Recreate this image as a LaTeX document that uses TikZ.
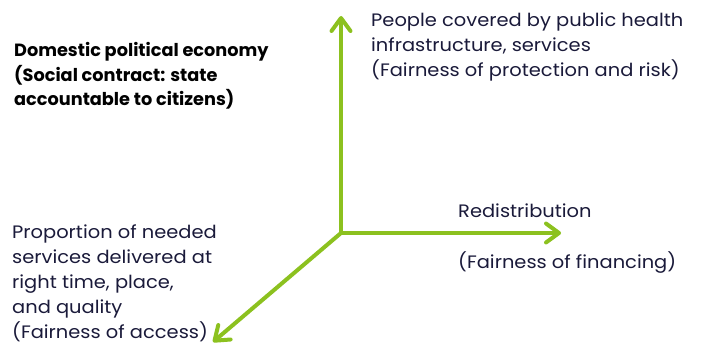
\documentclass[tikz,border=0pt]{standalone}
\usepackage{fontspec}
\setmainfont{Poppins}[FakeStretch=1.08, BoldFeatures={FakeStretch=1.0}]
\usetikzlibrary{arrows.meta}
\definecolor{axisgreen}{HTML}{8CC11F}
\definecolor{txt}{HTML}{1A1A3A}
\tikzset{
  axis/.style={draw=axisgreen, line width=4pt, line cap=round,
    -{Straight Barb[length=13pt, width=19pt, line width=4pt, round]}},
  lbl/.style={anchor=north west, align=left, inner sep=0pt, text=txt,
    font=\fontsize{18}{24.8}\selectfont},
  boldlbl/.style={lbl, text=black, font=\fontsize{17.7}{24.8}\selectfont\bfseries}
}
\begin{document}
\begin{tikzpicture}[x=1pt, y=-1pt]
\useasboundingbox (0,0) rectangle (708,345);
\coordinate (o) at (341,233);
\coordinate (up) at (341,16);
\coordinate (right) at (561,233);
\coordinate (down) at (213,342);
\draw[axis] (o) -- (up);
\draw[axis] (o) -- (right);
\draw[axis] (o) -- (down);
\node[lbl] (people) at (371,13) {People covered by public health\\infrastructure, services\\(Fairness of protection and risk)};
\node[boldlbl] (dom) at (14,42) {Domestic political economy\\(Social contract: state\\accountable to citizens)};
\node[lbl] (redis) at (458,204) {Redistribution};
\node[lbl] (fin) at (458,251) {(Fairness of financing)};
\node[lbl] (prop) at (12,225) {Proportion of needed\\services delivered at\\right time, place,\\and quality\\(Fairness of access)};
\end{tikzpicture}
\end{document}
